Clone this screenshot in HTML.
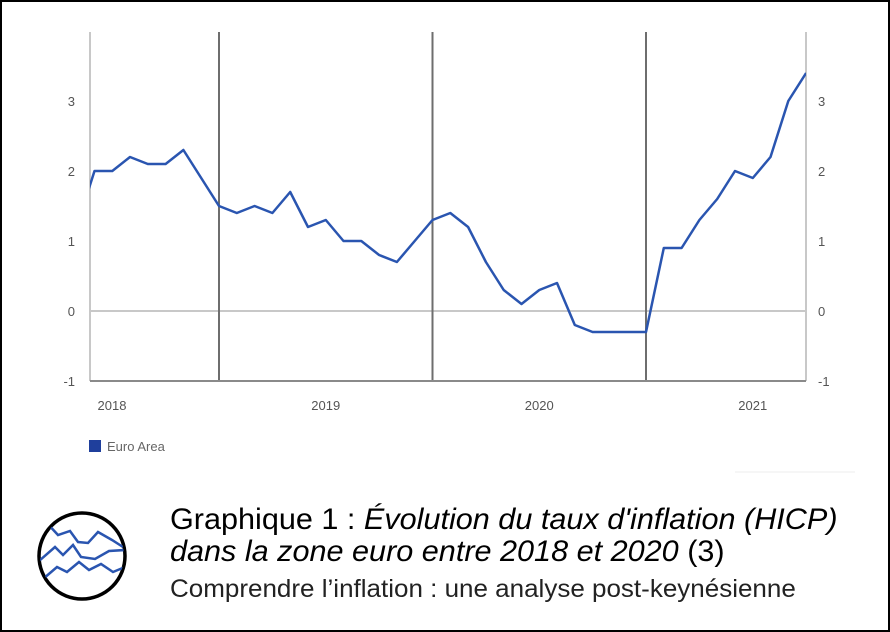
<!DOCTYPE html>
<html><head><meta charset="utf-8"><style>
html,body{margin:0;padding:0;background:#fff;}
body{width:890px;height:632px;overflow:hidden;position:relative;font-family:"Liberation Sans",sans-serif;}
#frame{position:absolute;left:0;top:0;width:886px;height:628px;border:2px solid #000;}
</style></head><body>
<div id="frame"></div>
<svg id="chart" width="890" height="632" style="position:absolute;left:0;top:0"></svg>
<script>
const months = ["2018-04","2018-05","2018-06","2018-07","2018-08","2018-09","2018-10","2018-11","2018-12",
"2019-01","2019-02","2019-03","2019-04","2019-05","2019-06","2019-07","2019-08","2019-09","2019-10","2019-11","2019-12",
"2020-01","2020-02","2020-03","2020-04","2020-05","2020-06","2020-07","2020-08","2020-09","2020-10","2020-11","2020-12",
"2021-01","2021-02","2021-03","2021-04","2021-05","2021-06","2021-07","2021-08","2021-09"];
const euroArea = [1.2,2.0,2.0,2.2,2.1,2.1,2.3,1.9,1.5,
1.4,1.5,1.4,1.7,1.2,1.3,1.0,1.0,0.8,0.7,1.0,1.3,
1.4,1.2,0.7,0.3,0.1,0.3,0.4,-0.2,-0.3,-0.3,-0.3,-0.3,
0.9,0.9,1.3,1.6,2.0,1.9,2.2,3.0,3.4];
const yTicks = [-1,0,1,2,3];
const yearLabels = ["2018","2019","2020","2021"];
const yearBoundaries = ["2018-12","2019-12","2020-12"];

const NS="http://www.w3.org/2000/svg";
const svg=document.getElementById('chart');
const L=90,R=806,T=32,B=381;
function mIndex(m){const [y,mo]=m.split('-').map(Number);return (y-2018)*12+(mo-1);}
const refIdx=mIndex("2018-12"), refX=219, mW=213.5/12;
function xS(m){return refX+(mIndex(m)-refIdx)*mW;}
function yS(v){return 311-v*70;}
function mk(tag,attrs){const e=document.createElementNS(NS,tag);for(const k in attrs)e.setAttribute(k,attrs[k]);svg.appendChild(e);return e;}

const defs=mk('defs',{});
const cp=document.createElementNS(NS,'clipPath');cp.setAttribute('id','pc');
const cr=document.createElementNS(NS,'rect');cr.setAttribute('x',L);cr.setAttribute('y',T);cr.setAttribute('width',R-L);cr.setAttribute('height',B-T);
cp.appendChild(cr);defs.appendChild(cp);

let e;
e=mk('line',{x1:L,y1:T,x2:L,y2:B,stroke:'#c8c8c8','stroke-width':2});


e=mk('line',{x1:R,y1:T,x2:R,y2:B,stroke:'#c8c8c8','stroke-width':2});


e=mk('line',{x1:L,y1:yS(0),x2:R,y2:yS(0),stroke:'#c8c8c8','stroke-width':2});


yearBoundaries.forEach(m=>{
  e=mk('line',{x1:xS(m),y1:T,x2:xS(m),y2:B,stroke:'#6e6e6e','stroke-width':2});
  
  
});
e=mk('line',{x1:L,y1:B,x2:R,y2:B,stroke:'#8a8a8a','stroke-width':2});



yTicks.forEach(v=>{
  e=mk('text',{x:L-15,y:yS(v)+5,'text-anchor':'end','font-size':13,fill:'#555'});
  e.textContent=v;
  
  
  e=mk('text',{x:R+12,y:yS(v)+5,'text-anchor':'start','font-size':13,fill:'#555'});
  e.textContent=v;
  
  
});
yearLabels.forEach((y,i)=>{
  const cx = i===0 ? 112 : xS(y+"-06");
  e=mk('text',{x:cx,y:410,'text-anchor':'middle','font-size':13,fill:'#555'});
  e.textContent=y;
  
  
});

const d=months.map((m,i)=>(i?'L':'M')+xS(m).toFixed(1)+','+yS(euroArea[i]).toFixed(1)).join(' ');
e=mk('path',{d:d,fill:'none',stroke:'#2a55b0','stroke-width':2.5,'stroke-linejoin':'round','clip-path':'url(#pc)'});



e=mk('rect',{x:89,y:440,width:12,height:12,fill:'#1f3f9c'});


e=mk('text',{x:107,y:451,'font-size':13,fill:'#666'});
e.textContent='Euro Area';


e=mk('line',{x1:735,y1:472,x2:855,y2:472,stroke:'#eee','stroke-width':1});


</script>
<svg width="100" height="100" style="position:absolute;top:507px;left:33px">
<defs><clipPath id="ic"><circle cx="49" cy="49" r="42"/></clipPath></defs>
<circle cx="49" cy="49" r="43" fill="#fff" stroke="#000" stroke-width="3.5"/>
<g fill="none" stroke="#2a55b0" stroke-width="2.5" clip-path="url(#ic)">
<polyline points="13,15 25,28 37,24 45,35 55,36 65,25 79,33 90,40"/>
<polyline points="6,54 22,40 30,48 40,38 48,50 62,52 76,44 92,43"/>
<polyline points="10,72 24,60 34,65 46,55 56,63 68,57 80,65 92,60"/>
</g>
</svg>
<div style="position:absolute;left:170px;top:504px;font-size:30px;line-height:32px;color:#000;white-space:nowrap;transform:scaleX(1.02);transform-origin:0 0">Graphique 1 : <i>Évolution du taux d'inflation (HICP)</i><br><i>dans la zone euro entre 2018 et 2020</i> (3)</div>
<div style="position:absolute;left:170px;top:575px;font-size:25px;color:#222;white-space:nowrap;transform:scaleX(1.04);transform-origin:0 0">Comprendre l’inflation : une analyse post-keynésienne</div>
</body></html>
